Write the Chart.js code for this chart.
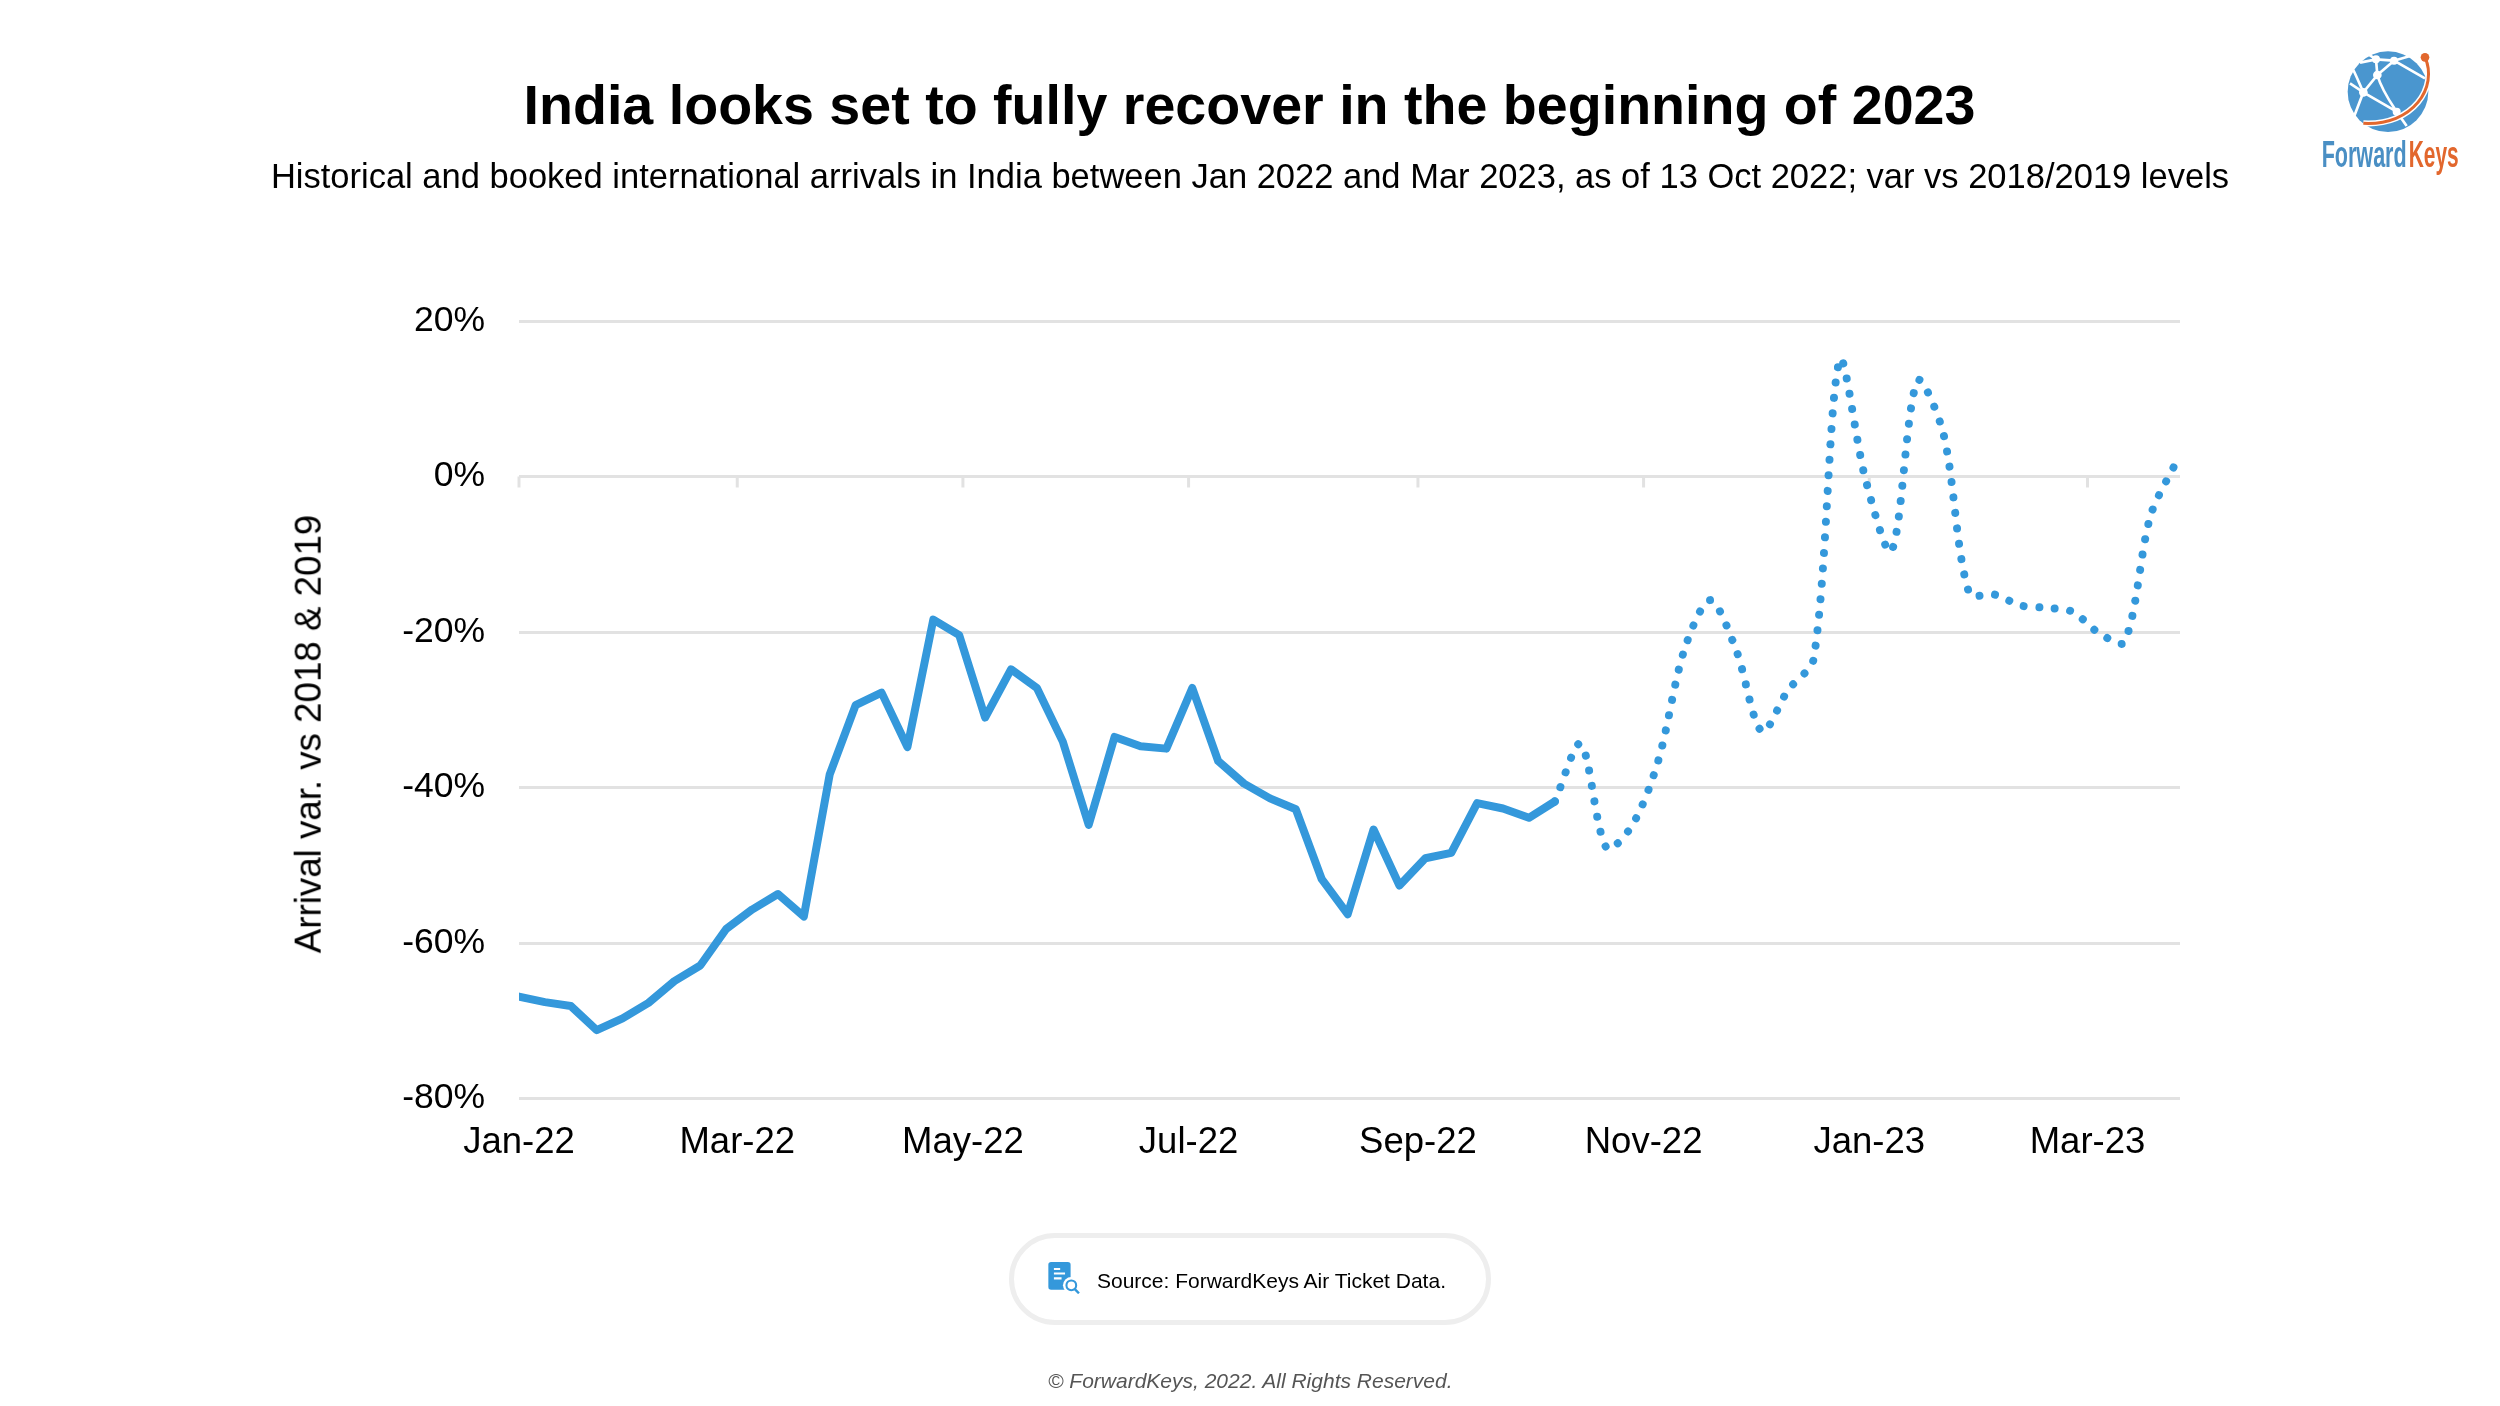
<!DOCTYPE html>
<html>
<head>
<meta charset="utf-8">
<title>India arrivals</title>
<script src="https://cdn.jsdelivr.net/npm/chart.js@4"></script>
<style>
  html, body { margin: 0; padding: 0; background: #fff; }
  body { width: 2500px; height: 1406px; position: relative; overflow: hidden; font-family: "Liberation Sans", Arial, sans-serif; color: #000; }
  canvas { position: absolute; left: 0; top: 0; }
  .line { position: absolute; white-space: nowrap; line-height: 1; }
  #title { left: 0; width: 2499px; top: 77.6px; text-align: center; font-size: 55.6px; font-weight: bold; }
  #subtitle { left: 0; width: 2500px; top: 159.3px; text-align: center; font-size: 34.5px; }
  #ytitle { left: 309px; top: 733.5px; font-size: 36.7px; transform: translate(-50%, -50%) rotate(-90deg); }
  #pill { position: absolute; left: 1009px; top: 1233px; width: 472px; height: 82px; border: 5px solid #eeeeee; border-radius: 46px; }
  #source { left: 1097px; top: 1269.5px; font-size: 21px; }
  #copy { left: 1048px; top: 1370px; font-size: 21px; font-style: italic; color: #555; }
  #icon { position: absolute; left: 1048px; top: 1262px; }
  #logo { position: absolute; left: 2250px; top: 20px; }
</style>
</head>
<body>
<canvas id="arrivalsChart" width="2500" height="1406"></canvas>

<div class="line" id="title">India looks set to fully recover in the beginning of 2023</div>
<div class="line" id="subtitle">Historical and booked international arrivals in India between Jan 2022 and Mar 2023, as of 13 Oct 2022; var vs 2018/2019 levels</div>
<div class="line" id="ytitle">Arrival var. vs 2018 &amp; 2019</div>

<div id="pill"></div>
<svg id="icon" width="32" height="32" viewBox="0 0 90 92">
  <rect x="0" y="0" width="64" height="80" rx="8" fill="#3498db"/>
  <path d="M16 20H34M16 33H48M16 47H38" stroke="#fff" stroke-width="6" fill="none"/>
  <circle cx="66" cy="67" r="24" fill="#fff"/>
  <circle cx="66" cy="67" r="14" fill="#fff" stroke="#3498db" stroke-width="6"/>
  <path d="M76 78L88 90" stroke="#3498db" stroke-width="7" fill="none"/>
</svg>
<div class="line" id="source">Source: ForwardKeys Air Ticket Data.</div>
<div class="line" id="copy">© ForwardKeys, 2022. All Rights Reserved.</div>

<svg id="logo" width="250" height="180" viewBox="0 0 750 540">
  <circle cx="414" cy="215" r="121" fill="#4a96cf"/>
  <g stroke="#fff" stroke-width="8" fill="none">
    <path d="M330 128L378 118L432 122L525 175"/>
    <path d="M378 118L382 165L340 217L300 190"/>
    <path d="M432 122L382 165M345 96L378 118M432 122L480 108"/>
    <path d="M340 217L440 275M340 217L312 290M382 165C395 210 420 245 440 275"/>
    <path d="M440 275L470 318M310 150C320 170 330 195 340 217"/>
  </g>
  <g fill="#fff">
    <circle cx="378" cy="118" r="12"/><circle cx="432" cy="122" r="12"/>
    <circle cx="382" cy="165" r="13"/><circle cx="340" cy="217" r="13"/><circle cx="440" cy="275" r="12"/>
  </g>
  <path d="M525 112C565 200 490 318 340 310" stroke="#fff" stroke-width="18" fill="none"/>
  <path d="M525 112C565 200 490 318 340 310" stroke="#e2672d" stroke-width="9" fill="none"/>
  <circle cx="525" cy="112" r="13" fill="#e2672d"/>
  <text x="215" y="440" font-family="Liberation Sans Narrow, Liberation Sans" font-weight="bold" font-size="110" fill="#4a8fc4" textLength="255" lengthAdjust="spacingAndGlyphs">Forward</text>
  <text x="476" y="440" font-family="Liberation Sans Narrow, Liberation Sans" font-weight="bold" font-size="110" fill="#e2672d" textLength="150" lengthAdjust="spacingAndGlyphs">Keys</text>
</svg>

<script>
// weekly points, Saturdays
const weeks = [
  "2022-01-01", "2022-01-08", "2022-01-15", "2022-01-22", "2022-01-29",
  "2022-02-05", "2022-02-12", "2022-02-19", "2022-02-26",
  "2022-03-05", "2022-03-12", "2022-03-19", "2022-03-26",
  "2022-04-02", "2022-04-09", "2022-04-16", "2022-04-23", "2022-04-30",
  "2022-05-07", "2022-05-14", "2022-05-21", "2022-05-28",
  "2022-06-04", "2022-06-11", "2022-06-18", "2022-06-25",
  "2022-07-02", "2022-07-09", "2022-07-16", "2022-07-23", "2022-07-30",
  "2022-08-06", "2022-08-13", "2022-08-20", "2022-08-27",
  "2022-09-03", "2022-09-10", "2022-09-17", "2022-09-24",
  "2022-10-01", "2022-10-08", "2022-10-15", "2022-10-22", "2022-10-29",
  "2022-11-05", "2022-11-12", "2022-11-19", "2022-11-26",
  "2022-12-03", "2022-12-10", "2022-12-17", "2022-12-24", "2022-12-31",
  "2023-01-07", "2023-01-14", "2023-01-21", "2023-01-28",
  "2023-02-04", "2023-02-11", "2023-02-18", "2023-02-25",
  "2023-03-04", "2023-03-11", "2023-03-18", "2023-03-25",
];

// historical, Jan 2022 to 8 Oct 2022
const historical = [
  -66.9, -67.6, -68.1, -71.2, -69.7, -67.7, -64.9, -62.9, -58.2, -55.7,
  -53.7, -56.6, -38.3, -29.4, -27.8, -34.8, -18.4, -20.4, -31.0, -24.8,
  -27.2, -34.1, -44.8, -33.5, -34.7, -35.0, -27.2, -36.6, -39.5, -41.4,
  -42.8, -51.8, -56.3, -45.4, -52.6, -49.1, -48.4, -42.0, -42.7, -43.9,
  -41.8,
];

// booked, starts on the last historical week
const booked = [
  -41.8, -34.4, -47.8, -44.8, -36.5, -22.3, -15.9, -22.3, -32.8, -27.5,
  -23.4, 15.0, -0.4, -9.6, 12.3, 5.6, -15.0, -15.2, -16.6, -16.9,
  -17.4, -20.1, -21.3, -5.1, 1.9,
];

const tickDates = ["2022-01-01", "2022-03-01", "2022-05-01", "2022-07-01", "2022-09-01", "2022-11-01", "2023-01-01", "2023-03-01"];
const tickLabels = ["Jan-22", "Mar-22", "May-22", "Jul-22", "Sep-22", "Nov-22", "Jan-23", "Mar-23"];
const yTicks = [-80, -60, -40, -20, 0, 20];

const BLUE = "#3498db";
const GRID = "#e2e2e2";

function points(values, offset) {
  return values.map((v, i) => ({ x: Date.parse(weeks[i + offset]), y: v }));
}

// small ticks hanging off the 0% line, labels stay at the bottom
const zeroTicks = {
  id: "zeroTicks",
  beforeDatasetsDraw(chart) {
    const { ctx, scales } = chart;
    const y0 = scales.y.getPixelForValue(0);
    ctx.save();
    ctx.strokeStyle = GRID;
    ctx.lineWidth = 3;
    tickDates.forEach((d) => {
      const x = scales.x.getPixelForValue(Date.parse(d));
      ctx.beginPath();
      ctx.moveTo(x, y0);
      ctx.lineTo(x, y0 + 11);
      ctx.stroke();
    });
    ctx.restore();
  },
};

const ctx = document.getElementById("arrivalsChart");

new Chart(ctx, {
  type: "line",
  data: {
    datasets: [
      {
        label: "Historical",
        data: points(historical, 0),
        borderColor: BLUE,
        borderWidth: 8,
        borderJoinStyle: "round",
        borderCapStyle: "round",
        tension: 0,
        pointRadius: 0,
      },
      {
        label: "Booked",
        data: points(booked, 40),
        borderColor: BLUE,
        borderWidth: 8,
        borderDash: [0.01, 15.5],
        borderCapStyle: "round",
        tension: 0.3,
        pointRadius: 0,
      },
    ],
  },
  options: {
    responsive: false,
    animation: false,
    devicePixelRatio: 1,
    layout: { padding: { left: 288, right: 320, top: 321, bottom: 207.5 } },
    plugins: { legend: { display: false }, title: { display: false }, tooltip: { enabled: false } },
    scales: {
      x: {
        type: "linear",
        min: Date.parse(weeks[0]),
        max: Date.parse("2023-03-26"),
        afterBuildTicks: (axis) => {
          axis.ticks = tickDates.map((d) => ({ value: Date.parse(d) }));
        },
        afterFit: (axis) => { axis.height = 100; },
        grid: { display: false },
        border: { display: false },
        ticks: {
          autoSkip: false,
          maxRotation: 0,
          padding: 15,
          color: "#000",
          font: { family: "Liberation Sans", size: 36.5 },
          callback: (value, i) => tickLabels[i],
        },
      },
      y: {
        min: -80,
        max: 20,
        afterBuildTicks: (axis) => {
          axis.ticks = yTicks.map((v) => ({ value: v }));
        },
        afterFit: (axis) => { axis.width = 231; },
        grid: { color: GRID, lineWidth: 3, drawTicks: false },
        border: { display: false },
        ticks: {
          padding: 34,
          color: "#000",
          font: { family: "Liberation Sans", size: 35.5 },
          callback: (value) => value + "%",
        },
      },
    },
  },
  plugins: [zeroTicks],
});
</script>
</body>
</html>
